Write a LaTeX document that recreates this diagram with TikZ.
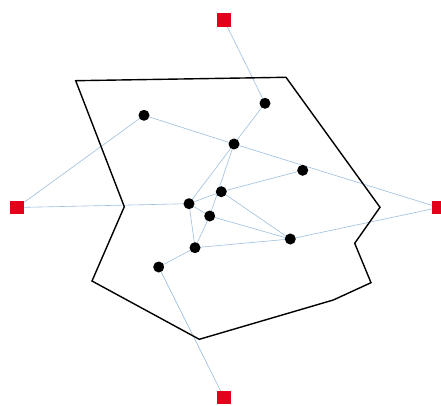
\documentclass[tikz,border=0pt]{standalone}
\usepackage{tikz}
\usetikzlibrary{positioning,backgrounds}

\begin{document}
\begin{tikzpicture}[
    x=1pt, y=-1pt,
    site/.style={circle, fill=black, inner sep=0pt, minimum size=11pt},
    anchorbox/.style={rectangle, fill=anchorred, inner sep=0pt, minimum size=13.4pt},
    link/.style={draw=linkblue, line width=0.6pt},
    region/.style={draw=black, line width=1.4pt, line join=miter}
]

% Colors
\definecolor{anchorred}{HTML}{E2001A}
\definecolor{linkblue}{HTML}{9DBEDC}

\useasboundingbox (0,0) rectangle (441,406);
\clip (0,0) rectangle (441,406);

% Region outline
\draw[region] (75.7,80.7) -- (286,77.3) -- (380,207.3) -- (354.7,243.3)
    -- (371,282.7) -- (333.3,300) -- (199.3,339.3) -- (92,281)
    -- (124.3,206.7) -- cycle;

% Anchor squares (outside the region)
\node[anchorbox] (at) at (224, 20.0) {};
\node[anchorbox] (al) at ( 17,207.5) {};
\node[anchorbox] (ar) at (438.8,207.5) {};
\node[anchorbox] (ab) at (224,397.7) {};

% Sensor sites (inside the region)
\node[site] (s1)  at (144.0,115.3) {};
\node[site] (s2)  at (265.0,103.3) {};
\node[site] (s3)  at (234.0,144.0) {};
\node[site] (s4)  at (302.7,170.3) {};
\node[site] (s5)  at (221.3,191.7) {};
\node[site] (s6)  at (189.0,203.7) {};
\node[site] (s7)  at (209.7,216.0) {};
\node[site] (s8)  at (290.3,239.0) {};
\node[site] (s9)  at (195.0,247.7) {};
\node[site] (s10) at (158.7,267.0) {};

% Links (behind the sites and anchors)
\begin{scope}[on background layer]
\path[link] (at.center) -- (s2.center);
\path[link] (al.center) -- (s1.center);
\path[link] (al.center) -- (s6.center);
\path[link] (ar.center) -- (s3.center);
\path[link] (ar.center) -- (s8.center);
\path[link] (ab.center) -- (s10.center);
\path[link] (s1.center) -- (s3.center);
\path[link] (s2.center) -- (s3.center);
\path[link] (s3.center) -- (s6.center);
\path[link] (s3.center) -- (s7.center);
\path[link] (s5.center) -- (s4.center);
\path[link] (s6.center) -- (s5.center);
\path[link] (s5.center) -- (s8.center);
\path[link] (s6.center) -- (s7.center);
\path[link] (s6.center) -- (s9.center);
\path[link] (s7.center) -- (s8.center);
\path[link] (s7.center) -- (s9.center);
\path[link] (s9.center) -- (s8.center);
\path[link] (s9.center) -- (s10.center);
\end{scope}

\end{tikzpicture}
\end{document}
